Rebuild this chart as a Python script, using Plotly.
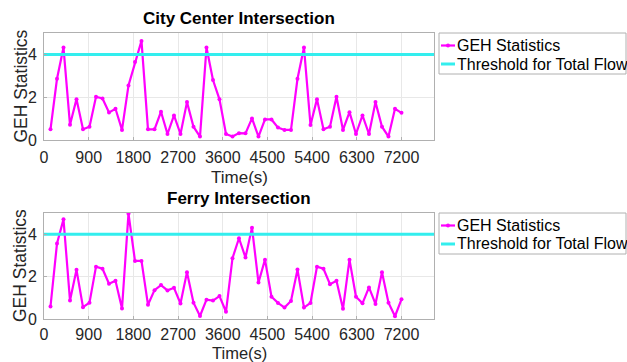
import plotly.graph_objects as go

# ---------------- data ----------------
time_s = [130.9, 261.8, 392.7, 523.6, 654.5, 785.5, 916.4, 1047.3, 1178.2, 1309.1,
          1440.0, 1570.9, 1701.8, 1832.7, 1963.6, 2094.5, 2225.5, 2356.4, 2487.3, 2618.2,
          2749.1, 2880.0, 3010.9, 3141.8, 3272.7, 3403.6, 3534.5, 3665.5, 3796.4, 3927.3,
          4058.2, 4189.1, 4320.0, 4450.9, 4581.8, 4712.7, 4843.6, 4974.5, 5105.5, 5236.4,
          5367.3, 5498.2, 5629.1, 5760.0, 5890.9, 6021.8, 6152.7, 6283.6, 6414.5, 6545.5,
          6676.4, 6807.3, 6938.2, 7069.1, 7200.0]

geh_city = [0.50, 2.86, 4.32, 0.71, 1.91, 0.50, 0.62, 2.02, 1.94, 1.29,
            1.46, 0.47, 2.55, 3.64, 4.63, 0.50, 0.50, 1.32, 0.28, 1.15,
            0.28, 1.77, 0.62, 0.16, 4.32, 2.80, 1.90, 0.28, 0.16, 0.32,
            0.31, 1.01, 0.16, 0.96, 0.96, 0.58, 0.47, 0.47, 2.86, 4.32,
            0.70, 1.91, 0.50, 0.62, 2.02, 0.47, 1.30, 0.28, 1.15, 0.28,
            1.77, 0.62, 0.16, 1.46, 1.27]

geh_ferry = [0.59, 3.56, 4.70, 0.87, 2.32, 0.56, 0.77, 2.47, 2.37, 1.66,
             1.80, 0.49, 4.97, 2.74, 2.74, 0.67, 1.36, 1.60, 1.35, 1.47,
             0.73, 2.21, 0.77, 0.14, 0.91, 0.87, 1.08, 0.34, 2.87, 3.81,
             2.90, 4.31, 1.72, 2.80, 1.05, 0.76, 0.54, 0.85, 2.33, 0.54,
             0.76, 2.47, 2.37, 1.64, 1.80, 0.48, 2.80, 1.05, 0.74, 1.49,
             0.71, 2.21, 0.77, 0.13, 0.93]

threshold = 4
x_range = [0, 7855]
y_range = [0, 5]
x_ticks = [0, 900, 1800, 2700, 3600, 4500, 5400, 6300, 7200]
y_ticks = [0, 2, 4]
titles = ["City Center Intersection", "Ferry Intersection"]
legend_labels = ["GEH Statistics", "Threshold for Total Flow"]

# ---------------- style ----------------
FONT = "Liberation Sans, Arial, Helvetica, sans-serif"
MAGENTA = "#ff00ff"
CYAN = "#33eeee"
AXCOL = "#b0b0b0"
TXT = "#262626"
W, H = 627, 362
ML, MR, MT, MB = 44, 193, 33, 43
PW, PH = W - ML - MR, H - MT - MB


def px(x):
    return (x - ML) / PW


def py(y):
    return (H - MB - y) / PH


fig = go.Figure()

series = [geh_city, geh_ferry]
for k, vals in enumerate(series):
    xa = "x" if k == 0 else "x2"
    ya = "y" if k == 0 else "y2"
    fig.add_trace(go.Scatter(
        x=time_s, y=vals, xaxis=xa, yaxis=ya, mode="lines+markers",
        line=dict(color=MAGENTA, width=2.2),
        marker=dict(color=MAGENTA, size=4),
        name=legend_labels[0], showlegend=False))
    fig.add_trace(go.Scatter(
        x=x_range, y=[threshold, threshold], xaxis=xa, yaxis=ya, mode="lines",
        line=dict(color=CYAN, width=3),
        name=legend_labels[1], showlegend=False))

# axis pixel positions (top, bottom) of each subplot
plot_px = [(33, 140), (213, 319)]

axis_common = dict(
    showline=True, mirror=True, linecolor=AXCOL, linewidth=1,
    showgrid=True, gridcolor="#e8e8e8", gridwidth=1,
    zeroline=False, ticks="inside", ticklen=3, tickcolor=AXCOL,
    tickfont=dict(family=FONT, size=16, color=TXT), automargin=False,
)

layout = dict(
    template="none",
    width=W, height=H, margin=dict(l=ML, r=MR, t=MT, b=MB, autoexpand=False),
    paper_bgcolor="white", plot_bgcolor="white",
    font=dict(family=FONT, color=TXT),
    showlegend=False,
)

annotations = []
shapes = []
for k, (top, bot) in enumerate(plot_px):
    sfx = "" if k == 0 else "2"
    dom = [py(bot), py(top)]
    layout["xaxis" + sfx] = dict(
        axis_common, range=x_range, tickvals=x_ticks, domain=[0, 1],
        anchor="y" + sfx, ticklabelstandoff=3 if k == 0 else 1)
    layout["yaxis" + sfx] = dict(
        axis_common, range=y_range, tickvals=y_ticks, domain=dom,
        anchor="x" + sfx, ticklabelstandoff=3)
    # x axis title
    if k == 0:
        xt = dict(y=py(bot + 37), yanchor="middle")
    else:
        xt = dict(y=py(H + 1), yanchor="bottom")
    annotations.append(dict(
        text="Time(s)", xref="paper", yref="paper",
        x=0.5, xanchor="center", showarrow=False, borderpad=0,
        font=dict(family=FONT, size=17 if k == 0 else 16.5, color=TXT), **xt))
    # y axis title
    annotations.append(dict(
        text="GEH Statistics", xref="paper", yref="paper",
        x=px(20), y=py((top + bot) / 2), xanchor="center", yanchor="middle",
        textangle=-90, showarrow=False,
        font=dict(family=FONT, size=17.5, color=TXT)))
    # subplot title
    annotations.append(dict(
        text="<b>" + titles[k] + "</b>", xref="paper", yref="paper",
        x=0.5, y=py(top - 3), xanchor="center", yanchor="bottom", showarrow=False,
        font=dict(family=FONT, size=17, color="#000000")))
    # legend box
    lx0, lx1 = 439, 626
    ly0, ly1 = top, top + 41
    shapes.append(dict(type="rect", xref="paper", yref="paper",
                       x0=px(lx0), x1=px(lx1), y0=py(ly1), y1=py(ly0),
                       line=dict(color=AXCOL, width=1), fillcolor="white", layer="above"))
    rows = [top + 12.5, top + 31]
    cols = [MAGENTA, CYAN]
    for r, (yy, c) in enumerate(zip(rows, cols)):
        shapes.append(dict(type="line", xref="paper", yref="paper",
                           x0=px(441), x1=px(455), y0=py(yy), y1=py(yy),
                           line=dict(color=c, width=2.2 if r == 0 else 3), layer="above"))
        if r == 0:
            shapes.append(dict(type="circle", xref="paper", yref="paper",
                               x0=px(446), x1=px(450), y0=py(yy + 2), y1=py(yy - 2),
                               line=dict(color=c, width=0), fillcolor=c, layer="above"))
        annotations.append(dict(
            text=legend_labels[r], xref="paper", yref="paper",
            x=px(455), y=py(yy), xanchor="left", yanchor="middle", showarrow=False,
            font=dict(family=FONT, size=16, color="#000000")))

layout["annotations"] = annotations
layout["shapes"] = shapes
fig.update_layout(**layout)

fig.write_html("out.html")
